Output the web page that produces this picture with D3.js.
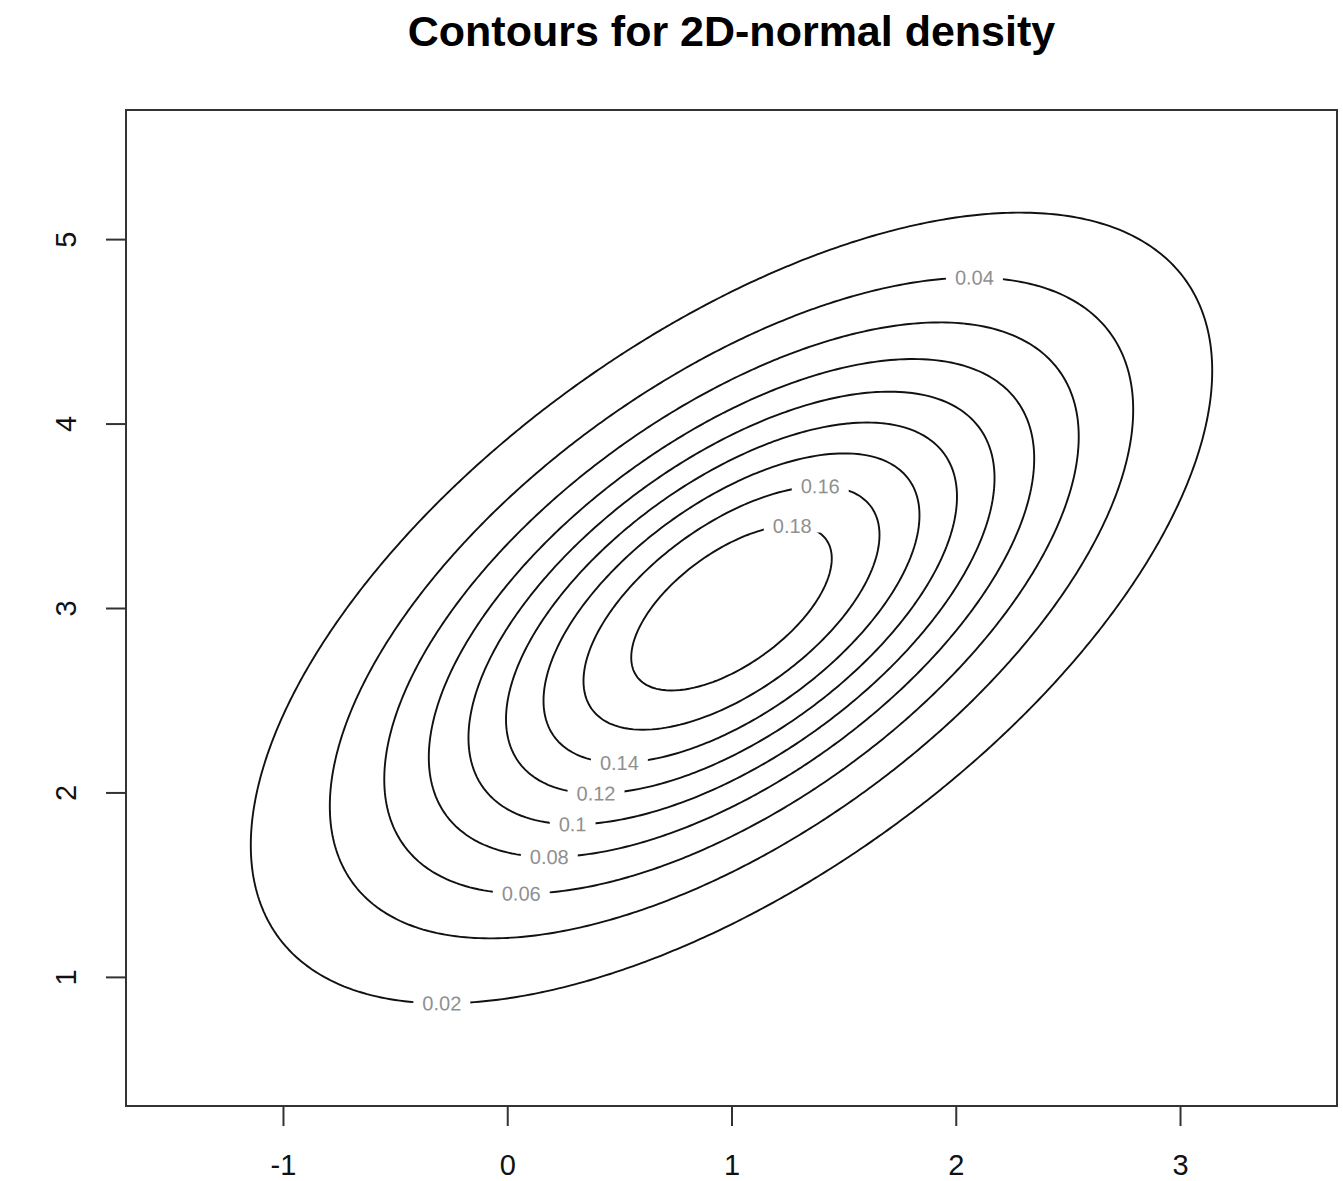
<!DOCTYPE html>
<html>
<head>
<meta charset="utf-8">
<script src="https://cdn.jsdelivr.net/npm/d3@7"></script>
<style>
  body { margin: 0; background: #fff; }
  svg { display: block; font-family: "Liberation Sans", Arial, sans-serif; }
</style>
</head>
<body>
<svg id="chart"></svg>
<script>
// distribution
const mu = [1, 3];
const sigma = [[1, 0.6], [0.6, 1]];
const levels = [0.02, 0.04, 0.06, 0.08, 0.1, 0.12, 0.14, 0.16, 0.18];
const levelLabels = ["0.02", "0.04", "0.06", "0.08", "0.1", "0.12", "0.14", "0.16", "0.18"];
const labelSide = ["bottom", "top", "bottom", "bottom", "bottom", "bottom", "bottom", "top", "top"];
const gridX = [-1.5, 3.5];
const gridY = [0.5, 5.5];
const xTicks = [-1, 0, 1, 2, 3];
const yTicks = [1, 2, 3, 4, 5];

const width = 1343;
const height = 1181;
const box = { left: 126, right: 1337, top: 110, bottom: 1106 };

const svg = d3.select("#chart")
    .attr("width", width)
    .attr("height", height);

const x = d3.scaleLinear().domain([-1.7, 3.7]).range([box.left, box.right]);
const y = d3.scaleLinear().domain([0.3, 5.7]).range([box.bottom, box.top]);

// density on a grid
const n = 241;
const dx = (gridX[1] - gridX[0]) / (n - 1);
const dy = (gridY[1] - gridY[0]) / (n - 1);
const det = sigma[0][0] * sigma[1][1] - sigma[0][1] * sigma[1][0];
const inv = [[sigma[1][1] / det, -sigma[0][1] / det], [-sigma[1][0] / det, sigma[0][0] / det]];
const dens = (a, b) => {
    const u = a - mu[0], v = b - mu[1];
    const q = u * (inv[0][0] * u + inv[0][1] * v) + v * (inv[1][0] * u + inv[1][1] * v);
    return Math.exp(-q / 2) / (2 * Math.PI * Math.sqrt(det));
};
const values = new Array(n * n);
for (let j = 0; j < n; j++) {
    for (let i = 0; i < n; i++) {
        values[i + j * n] = dens(gridX[0] + i * dx, gridY[0] + j * dy);
    }
}

const contours = d3.contours().size([n, n]).thresholds(levels)(values);

const gx = g => gridX[0] + (g - 0.5) * dx;
const gy = g => gridY[0] + (g - 0.5) * dy;

const line = d3.line()
    .x(p => x(gx(p[0])))
    .y(p => y(gy(p[1])));

const plot = svg.append("g");

contours.forEach(c => {
    c.coordinates.forEach(poly => {
        poly.forEach(ring => {
            plot.append("path")
                .attr("d", line(ring) + "Z")
                .attr("fill", "none")
                .attr("stroke", "#111")
                .attr("stroke-width", 1.9);
        });
    });
});

// labels at the flat top or bottom of each ring
contours.forEach((c, k) => {
    const ring = c.coordinates[0][0];
    const pts = ring.map(p => [x(gx(p[0])), y(gy(p[1]))]);
    let best = 0;
    pts.forEach((p, i) => {
        if (labelSide[k] === "top" ? p[1] < pts[best][1] : p[1] > pts[best][1]) best = i;
    });
    const m = pts.length;
    const a = pts[(best - 4 + m) % m], b = pts[(best + 4) % m];
    let ang = Math.atan2(b[1] - a[1], b[0] - a[0]) * 180 / Math.PI;
    if (ang > 90) ang -= 180;
    if (ang < -90) ang += 180;
    const g = plot.append("g")
        .attr("transform", `translate(${pts[best][0]},${pts[best][1]}) rotate(${ang})`);
    const t = g.append("text")
        .attr("text-anchor", "middle")
        .attr("dy", "0.35em")
        .attr("font-size", 20)
        .attr("fill", "#909090")
        .text(levelLabels[k]);
    const w = t.node().getComputedTextLength();
    g.insert("rect", "text")
        .attr("x", -w / 2 - 9)
        .attr("y", -7)
        .attr("width", w + 18)
        .attr("height", 14)
        .attr("fill", "#fff");
});

// box
svg.append("rect")
    .attr("x", box.left)
    .attr("y", box.top)
    .attr("width", box.right - box.left)
    .attr("height", box.bottom - box.top)
    .attr("fill", "none")
    .attr("stroke", "#333")
    .attr("stroke-width", 2);

// axes
const xAxis = svg.append("g")
    .attr("transform", `translate(0,${box.bottom})`)
    .call(d3.axisBottom(x).tickValues(xTicks).tickSize(20).tickPadding(28).tickFormat(d => String(d)));
const yAxis = svg.append("g")
    .attr("transform", `translate(${box.left},0)`)
    .call(d3.axisLeft(y).tickValues(yTicks).tickSize(20).tickPadding(0).tickFormat(d => String(d)));

[xAxis, yAxis].forEach(ax => {
    ax.select(".domain").remove();
    ax.selectAll(".tick line").attr("stroke", "#333").attr("stroke-width", 2);
    ax.selectAll(".tick text")
        .attr("font-family", "Liberation Sans, Arial, sans-serif")
        .attr("font-size", 29)
        .attr("fill", "#111");
});

yAxis.selectAll(".tick text")
    .attr("x", null)
    .attr("dy", null)
    .attr("text-anchor", "middle")
    .attr("transform", "translate(-60,0) rotate(-90)")
    .attr("dy", "0.35em");

// title
svg.append("text")
    .attr("x", (box.left + box.right) / 2)
    .attr("y", 46)
    .attr("text-anchor", "middle")
    .attr("font-size", 43)
    .attr("font-weight", "bold")
    .attr("fill", "#000")
    .text("Contours for 2D-normal density");
</script>
</body>
</html>
